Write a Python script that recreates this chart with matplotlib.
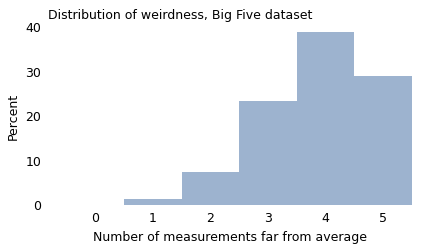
import matplotlib
matplotlib.use('Agg')
import matplotlib.pyplot as plt

# percent of respondents by number of far-from-average measurements
counts = [0, 1, 2, 3, 4, 5]
percent = [0.0, 1.4, 7.4, 23.4, 38.9, 29.0]

fig = plt.figure(figsize=(4.38, 2.5), dpi=100)
ax = fig.add_axes([48 / 438, 45 / 250, (412 - 48) / 438, (205 - 27) / 250])

ax.bar(counts, percent, width=1.0, color='#9db3cf', linewidth=0)

ax.set_xlim(-0.82, 5.5)
ax.set_ylim(0, 40)
ax.set_xticks(counts)
ax.set_yticks([0, 10, 20, 30, 40])
ax.tick_params(length=0, labelsize=9, pad=5)
for s in ax.spines.values():
    s.set_visible(False)

ax.set_xlabel('Number of measurements far from average', fontsize=9)
ax.set_ylabel('Percent', fontsize=9)
ax.set_title('Distribution of weirdness, Big Five dataset', fontsize=9, loc='left')

fig.savefig('out.png', dpi=100)
